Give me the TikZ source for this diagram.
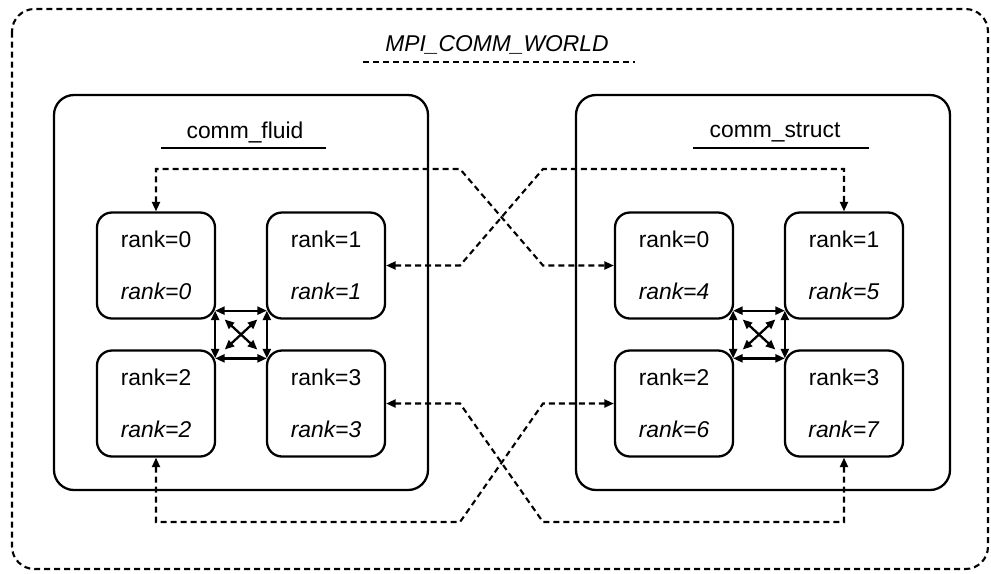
\documentclass[tikz,border=0pt]{standalone}
\usepackage{fontspec}
\setmainfont{Liberation Sans}
\usetikzlibrary{positioning,calc,arrows.meta}

\begin{document}
\begin{tikzpicture}[x=0.2mm, y=-0.2mm]
	\useasboundingbox (0,0) rectangle (991,573);
	\begin{scope}
		\tikzstyle{every node}=[align=center, inner sep=1pt, font=\fontsize{13pt}{15pt}\selectfont]
		\tikzstyle{rankbox}=[draw, line width=1.3pt, rounded corners=3mm, minimum width=23.6mm, minimum height=21.2mm]
		\tikzstyle{groupbox}=[draw, line width=1.3pt, rounded corners=4mm, minimum width=74.8mm, minimum height=79mm]
		\tikzstyle{dots}=[line width=1.2pt, dash pattern=on 1.2mm off 0.8mm]
		\tikzstyle{tips}=[<->, >={Triangle[length=1.9mm,width=1.6mm]}]
		\tikzstyle{link}=[dots, tips]
		\tikzstyle{mesh}=[line width=1.3pt, tips]

		% MPI_COMM_WORLD
		\draw [dots, rounded corners=4.5mm] (12,9) rectangle (988,569);
		\node [font=\itshape\fontsize{13pt}{15pt}\selectfont] (world) at (497,45) {MPI\_COMM\_WORLD};
		\draw [dots] (363,62) -- (635,62);

		% comm_fluid
		\node [groupbox] (gfluid) at (241,292.5) {};
		\node (fluid) at (245,132) {comm\_fluid};
		\draw [line width=1.3pt] (161,148) -- (326,148);

		\node [rankbox] (fl0) at (156,265.5) {rank=0\\[14.5pt]\textit{rank=0}};
		\node [rankbox] (fl1) at (326,265.5) {rank=1\\[14.5pt]\textit{rank=1}};
		\node [rankbox] (fl2) at (156,403.5) {rank=2\\[14.5pt]\textit{rank=2}};
		\node [rankbox] (fl3) at (326,403.5) {rank=3\\[14.5pt]\textit{rank=3}};

		% comm_struct
		\node [groupbox] (gstruct) at (763,292.5) {};
		\node (struct) at (775,132) {comm\_struct};
		\draw [line width=1.3pt] (693,148) -- (869,148);

		\node [rankbox] (fs0) at (674,265.5) {rank=0\\[14.5pt]\textit{rank=4}};
		\node [rankbox] (fs1) at (844,265.5) {rank=1\\[14.5pt]\textit{rank=5}};
		\node [rankbox] (fs2) at (674,403.5) {rank=2\\[14.5pt]\textit{rank=6}};
		\node [rankbox] (fs3) at (844,403.5) {rank=3\\[14.5pt]\textit{rank=7}};

		% corner points between the ranks
		\coordinate (fl0c) at ($(fl0.south east)+(-1,-9)$);
		\coordinate (fl1c) at ($(fl1.south west)+(1,-9)$);
		\coordinate (fl2c) at ($(fl2.north east)+(-1,9)$);
		\coordinate (fl3c) at ($(fl3.north west)+(1,9)$);
		\coordinate (fs0c) at ($(fs0.south east)+(-1,-9)$);
		\coordinate (fs1c) at ($(fs1.south west)+(1,-9)$);
		\coordinate (fs2c) at ($(fs2.north east)+(-1,9)$);
		\coordinate (fs3c) at ($(fs3.north west)+(1,9)$);

		\draw [mesh] (fl0c) to (fl1c);
		\draw [mesh] (fl2c) to (fl3c);
		\draw [mesh] (fl0c) to (fl2c);
		\draw [mesh] (fl1c) to (fl3c);
		\draw [mesh, shorten <=2.6mm, shorten >=2.6mm] (fl0c) to (fl3c);
		\draw [mesh, shorten <=2.6mm, shorten >=2.6mm] (fl1c) to (fl2c);

		\draw [mesh] (fs0c) to (fs1c);
		\draw [mesh] (fs2c) to (fs3c);
		\draw [mesh] (fs0c) to (fs2c);
		\draw [mesh] (fs1c) to (fs3c);
		\draw [mesh, shorten <=2.6mm, shorten >=2.6mm] (fs0c) to (fs3c);
		\draw [mesh, shorten <=2.6mm, shorten >=2.6mm] (fs1c) to (fs2c);

		% links across the two communicators
		\coordinate (xa) at (460,0);
		\coordinate (xb) at (543,0);
		\coordinate (ytop) at (0,169);
		\coordinate (ybot) at (0,522);

		\draw [link] (fl0.north) |- (ytop -| xa) -- (fs0.west -| xb) -- (fs0.west);
		\draw [link] (fl1.east) -- (fl1.east -| xa) -- (ytop -| xb) -| (fs1.north);
		\draw [link] (fl3.east) -- (fl3.east -| xa) -- (ybot -| xb) -| (fs3.south);
		\draw [link] (fl2.south) |- (ybot -| xa) -- (fs2.west -| xb) -- (fs2.west);
	\end{scope}
\end{tikzpicture}
\end{document}
